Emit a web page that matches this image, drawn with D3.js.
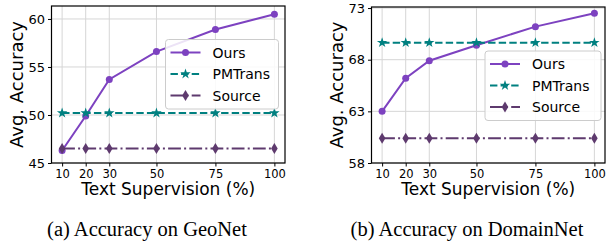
<!DOCTYPE html>
<html>
<head>
<meta charset="utf-8">
<script src="https://cdn.jsdelivr.net/npm/d3@7"></script>
<style>
  body { margin: 0; background: #fff; }
  svg text { font-family: "DejaVu Sans", sans-serif; }
  .caption { font-family: "Liberation Serif", "Times New Roman", serif; }
</style>
</head>
<body>
<svg id="chart" width="607" height="242"></svg>
<script>
// Data
const supervision = [10, 20, 30, 50, 75, 100];
const xTicks = [10, 20, 30, 50, 75, 100];

const geoOurs = [46.3, 49.9, 53.7, 56.6, 58.9, 60.5];
const geoPMTrans = [50.2, 50.2, 50.2, 50.2, 50.2, 50.2];
const geoSource = [46.5, 46.5, 46.5, 46.5, 46.5, 46.5];
const geoYTicks = [45, 50, 55, 60];

const domOurs = [63.0, 66.2, 67.9, 69.4, 71.2, 72.5];
const domPMTrans = [69.65, 69.65, 69.65, 69.65, 69.65, 69.65];
const domSource = [60.4, 60.4, 60.4, 60.4, 60.4, 60.4];
const domYTicks = [58, 63, 68, 73];

const seriesNames = ["Ours", "PMTrans", "Source"];
const captions = ["(a) Accuracy on GeoNet", "(b) Accuracy on DomainNet"];

// Styles for each series
const styles = {
  Ours: { color: "#7d42c0", dash: null, marker: "circle" },
  PMTrans: { color: "#008080", dash: "7.4,3.2", marker: "star" },
  Source: { color: "#5e3a6e", dash: "12.8,3.2,2,3.2", marker: "thin" },
};

// thin diamond like matplotlib 'd'
const thinDiamond = {
  draw(context, size) {
    const h = Math.sqrt(size) * 0.75;
    const w = h * 0.6;
    context.moveTo(0, -h);
    context.lineTo(w, 0);
    context.lineTo(0, h);
    context.lineTo(-w, 0);
    context.closePath();
  },
};

const svg = d3.select("#chart");

function drawMarker(g, type, color, x, y) {
  if (type === "circle") {
    g.append("circle").attr("cx", x).attr("cy", y).attr("r", 3.5).attr("fill", color);
  } else {
    const sym = type === "star" ? d3.symbol(d3.symbolStar, 34) : d3.symbol(thinDiamond, 54);
    g.append("path")
      .attr("d", sym())
      .attr("transform", `translate(${x},${y})`)
      .attr("fill", color);
  }
}

function drawPanel(cfg) {
  const x = d3.scaleLinear().domain([5.5, 104.5]).range([cfg.left, cfg.right]);
  const y = d3.scaleLinear().domain(cfg.yDomain).range([cfg.bottom, cfg.top]);
  const g = svg.append("g");

  // grid
  g.selectAll(".gx").data(xTicks).join("line")
    .attr("x1", (d) => x(d)).attr("x2", (d) => x(d))
    .attr("y1", cfg.top).attr("y2", cfg.bottom)
    .attr("stroke", "#d6d6d6").attr("stroke-width", 1);
  g.selectAll(".gy").data(cfg.yTicks).join("line")
    .attr("x1", cfg.left).attr("x2", cfg.right)
    .attr("y1", (d) => y(d)).attr("y2", (d) => y(d))
    .attr("stroke", "#d6d6d6").attr("stroke-width", 1);

  // lines + markers
  cfg.series.forEach((vals, i) => {
    const name = seriesNames[i];
    const st = styles[name];
    const pts = supervision.map((s, j) => [s, vals[j]]);
    g.append("path")
      .datum(pts)
      .attr("fill", "none")
      .attr("stroke", st.color)
      .attr("stroke-width", 2)
      .attr("stroke-dasharray", st.dash)
      .attr("d", d3.line().x((d) => x(d[0])).y((d) => y(d[1])));
    pts.forEach((p) => drawMarker(g, st.marker, st.color, x(p[0]), y(p[1])));
  });

  // axes
  const xAxis = g.append("g")
    .attr("transform", `translate(0,${cfg.bottom})`)
    .call(d3.axisBottom(x).tickValues(xTicks).tickSize(3.5).tickPadding(3));
  const yAxis = g.append("g")
    .attr("transform", `translate(${cfg.left},0)`)
    .call(d3.axisLeft(y).tickValues(cfg.yTicks).tickSize(3.5).tickPadding(3));
  [xAxis, yAxis].forEach((a) => {
    a.select(".domain").remove();
    a.selectAll("text").attr("font-family", "DejaVu Sans").attr("fill", "#000");
    a.selectAll("line").attr("stroke", "#000");
  });
  xAxis.selectAll("text").attr("font-size", 11.5);
  yAxis.selectAll("text").attr("font-size", 13);

  // frame
  g.append("rect")
    .attr("x", cfg.left).attr("y", cfg.top)
    .attr("width", cfg.right - cfg.left).attr("height", cfg.bottom - cfg.top)
    .attr("fill", "none").attr("stroke", "#000").attr("stroke-width", 1.2);

  // axis labels
  g.append("text")
    .attr("x", (cfg.left + cfg.right) / 2).attr("y", 194.5)
    .attr("text-anchor", "middle").attr("font-size", 17)
    .text("Text Supervision (%)");
  g.append("text")
    .attr("transform", `translate(${cfg.yLabelX},${(cfg.top + cfg.bottom) / 2}) rotate(-90)`)
    .attr("text-anchor", "middle").attr("font-size", 18)
    .text("Avg. Accuracy");

  // legend
  const lg = g.append("g").attr("transform", `translate(${cfg.legend[0]},${cfg.legend[1]})`);
  lg.append("rect")
    .attr("width", cfg.legend[2]).attr("height", 69.5).attr("rx", 3)
    .attr("fill", "#fff").attr("fill-opacity", 0.85)
    .attr("stroke", "#cccccc").attr("stroke-width", 1);
  seriesNames.forEach((name, i) => {
    const st = styles[name];
    const ry = 13 + i * 21.5;
    lg.append("line")
      .attr("x1", 5).attr("x2", 35).attr("y1", ry).attr("y2", ry)
      .attr("stroke", st.color).attr("stroke-width", 2)
      .attr("stroke-dasharray", st.dash);
    drawMarker(lg, st.marker, st.color, 20, ry);
    lg.append("text")
      .attr("x", 47).attr("y", ry + 5)
      .attr("font-size", 14).text(name);
  });

  // caption
  svg.append("text")
    .attr("class", "caption")
    .attr("x", cfg.captionX).attr("y", 236)
    .attr("text-anchor", "middle").attr("font-size", 20.5)
    .text(cfg.caption);
}

drawPanel({
  left: 51.5, right: 285, top: 6, bottom: 163,
  yDomain: [45, 61.35], yTicks: geoYTicks,
  series: [geoOurs, geoPMTrans, geoSource],
  yLabelX: 23, legend: [165.5, 39.5, 113],
  caption: captions[0], captionX: 147,
});

drawPanel({
  left: 371.5, right: 605, top: 7, bottom: 163,
  yDomain: [58, 73.1], yTicks: domYTicks,
  series: [domOurs, domPMTrans, domSource],
  yLabelX: 343, legend: [485, 51, 116],
  caption: captions[1], captionX: 467,
});
</script>
</body>
</html>
